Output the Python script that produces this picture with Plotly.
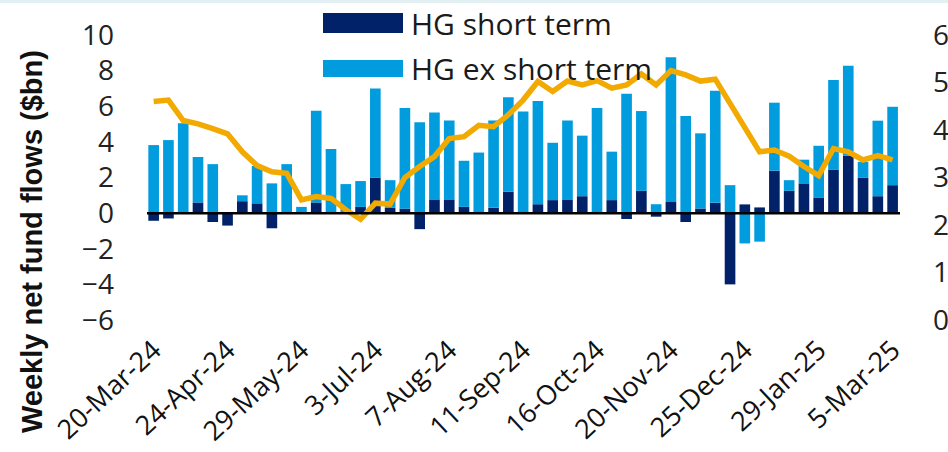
import pandas as pd
import plotly.graph_objects as go

# ---- data ----
weeks = pd.date_range("2024-03-20", "2025-03-05", freq="7D")
week_labels = [f"{d.day}-{d.strftime('%b-%y')}" for d in weeks]

hg_short_term = [-0.43, -0.3, 0.0, 0.6, -0.5, -0.7, 0.67, 0.55, -0.85, 0.0,
                 0.0, 0.6, 0.0, 0.0, 0.35, 2.0, 0.3, 0.25, -0.9, 0.77,
                 0.77, 0.35, 0.0, 0.3, 1.2, 0.0, 0.5, 0.73, 0.77, 0.95,
                 0.0, 0.73, -0.33, 1.25, -0.2, 0.63, -0.5, 0.26, 0.58, -4.0,
                 0.49, 0.32, 2.38, 1.25, 1.67, 0.88, 2.45, 3.22, 1.98, 0.95,
                 1.57]
hg_ex_short_term = [3.82, 4.1, 5.05, 2.55, 2.75, 0.0, 0.33, 2.1, 1.67, 2.75,
                    0.35, 5.15, 3.6, 1.63, 1.45, 5.0, 1.55, 5.65, 5.1, 4.88,
                    4.43, 2.59, 3.4, 4.9, 5.3, 5.7, 5.8, 3.22, 4.43, 3.4,
                    5.9, 2.72, 6.7, 4.48, 0.5, 8.12, 5.45, 4.22, 6.29, 1.57,
                    -1.7, -1.6, 3.82, 0.6, 1.33, 2.9, 5.02, 5.05, 0.9, 4.24,
                    4.4]
line_values = [4.6, 4.63, 4.2, 4.13, 4.03, 3.92, 3.54, 3.25, 3.12, 3.09,
               2.53, 2.6, 2.56, 2.32, 2.12, 2.46, 2.44, 3.0, 3.23, 3.44,
               3.82, 3.86, 4.1, 4.07, 4.32, 4.63, 5.02, 4.81, 5.03, 4.95,
               5.04, 4.88, 4.95, 5.18, 4.95, 5.25, 5.16, 5.03, 5.07, 4.56,
               4.07, 3.54, 3.58, 3.45, 3.23, 3.04, 3.61, 3.54, 3.37, 3.46,
               3.37]
tick_labels = week_labels[::5]
left_ticks = [-6, -4, -2, 0, 2, 4, 6, 8, 10]
right_ticks = [0, 1, 2, 3, 4, 5, 6]

name_short = "HG short term"
name_ex = "HG ex short term"
y_title = "Weekly net fund flows ($bn)"

NAVY = "#012169"
LIGHT = "#009CDE"
ORANGE = "#F2A900"
TXT = "#222222"
FONT = "Open Sans"

fig = go.Figure()
fig.add_trace(go.Bar(x=week_labels, y=hg_short_term, name=name_short,
                     marker=dict(color=NAVY, line=dict(width=0))))
fig.add_trace(go.Bar(x=week_labels, y=hg_ex_short_term, name=name_ex,
                     marker=dict(color=LIGHT, line=dict(width=0))))
fig.add_trace(go.Scatter(x=week_labels, y=line_values, mode="lines", yaxis="y2",
                         line=dict(color=ORANGE, width=5.5), showlegend=False))

fig.update_layout(
    width=948, height=452,
    margin=dict(l=147, r=48, t=35, b=132),
    barmode="relative", bargap=0.28,
    plot_bgcolor="white", paper_bgcolor="white",
    showlegend=False,
    font=dict(family=FONT, color=TXT),
    xaxis=dict(type="category", range=[-0.45, 50.5], tickmode="array",
               tickvals=tick_labels, ticktext=tick_labels, tickangle=-43,
               tickfont=dict(size=27, color="#111111", family=FONT),
               ticklabelstandoff=8,
               showgrid=False, showline=False, zeroline=False, ticks="",
               automargin=False),
    yaxis=dict(range=[-6, 10], tickvals=left_ticks, showgrid=False,
               zeroline=False, showline=False, ticks="",
               ticklabelstandoff=32,
               tickfont=dict(size=28, color=TXT, family=FONT),
               automargin=False),
    yaxis2=dict(range=[0, 6], tickvals=right_ticks, overlaying="y", side="right",
                showgrid=False, zeroline=False, showline=False, ticks="",
                ticklabelstandoff=32,
                tickfont=dict(size=28, color=TXT, family=FONT),
                automargin=False),
)

pw, ph = 753.0, 285.0
def px_x(px):
    return (px - 147) / pw
def px_y(py):
    return 1 + (35 - py) / ph

# zero line on top
fig.add_shape(type="line", xref="paper", yref="y", x0=0, x1=1, y0=0, y1=0,
              line=dict(color="black", width=2.5), layer="above")
# top strip
fig.add_shape(type="rect", xref="paper", yref="paper", x0=px_x(0), x1=px_x(948),
              y0=px_y(3), y1=px_y(0), line=dict(width=0), fillcolor="#E2EFF3",
              layer="below")

# y-axis title
fig.add_annotation(xref="paper", yref="paper", x=px_x(32), y=px_y(242),
                   text=y_title, textangle=-90, showarrow=False,
                   xanchor="center", yanchor="middle",
                   font=dict(size=29, color="#111111", family="Liberation Sans",
                             weight="bold"))

# manual legend with wide swatches
for (name, col, y0, y1) in [(name_short, NAVY, 13, 33), (name_ex, LIGHT, 60, 77)]:
    fig.add_shape(type="rect", xref="paper", yref="paper",
                  x0=px_x(323), x1=px_x(403), y0=px_y(y1), y1=px_y(y0),
                  fillcolor=col, line=dict(width=0), layer="above")
    fig.add_annotation(xref="paper", yref="paper", x=px_x(409), y=px_y((y0 + y1) / 2),
                       text=name, showarrow=False, xanchor="left", yanchor="middle",
                       font=dict(size=30, color="#1a1a1a", family=FONT))

fig.write_html("out.html")
